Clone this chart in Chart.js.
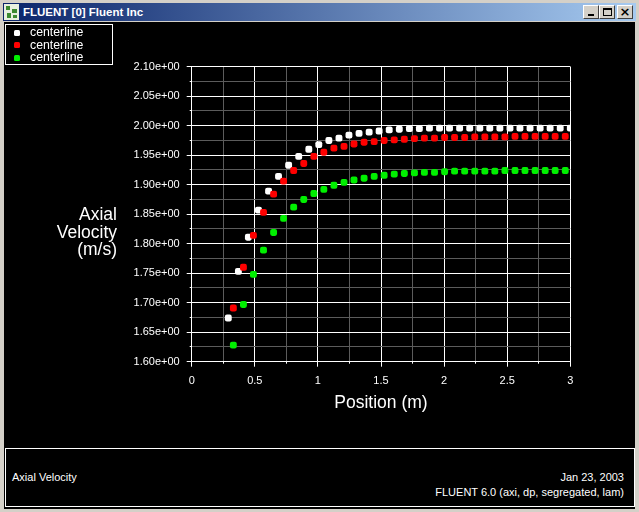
<!DOCTYPE html>
<html>
<head>
<meta charset="utf-8">
<title>FLUENT [0] Fluent Inc</title>
<script src="https://cdn.jsdelivr.net/npm/chart.js@4.4.1/dist/chart.umd.min.js"></script>
<style>
  body { margin:0; width:639px; height:512px; background:#d4d0c8; position:relative; overflow:hidden;
         font-family:"Liberation Sans", Arial, sans-serif; color:#fff; }
  .abs { position:absolute; }
  #titlebar { left:3px; top:3px; width:633px; height:18px; background:linear-gradient(to right,#0a246a,#a6caf0); }
  #icon { left:4px; top:4px; width:15px; height:16px; background:#e8f0e0; border:0 solid #3a6a2a; }
  #icon div { position:absolute; background:#3c8a30; }
  #ttext { left:23px; top:3px; line-height:18px; font-weight:bold; font-size:11.5px; white-space:nowrap; }
  .btn { top:5px; width:16px; height:14px; box-sizing:border-box; background:#d4d0c8;
         border:1px solid; border-color:#fff #404040 #404040 #fff; color:#000; }
  #client { left:4px; top:22px; width:631px; height:487px; background:#000; }
  #legend { left:5px; top:24px; width:108px; height:41px; box-sizing:border-box; border:1px solid #fff; }
  .lrow { position:absolute; left:0; font-size:12.3px; line-height:13px; white-space:nowrap; }
  .lmark { position:absolute; width:6px; height:6px; border-radius:1.5px; }
  #ytitle { right:522px; top:206px; text-align:right; font-size:17.5px; line-height:17.6px; }
  #info { left:5px; top:448px; width:630px; height:59px; box-sizing:border-box; border:1px solid #fff; font-size:11px; }
  #info div { position:absolute; white-space:nowrap; line-height:13px; }
  #chart { position:absolute; left:4px; top:22px; }
</style>
</head>
<body>
<div id="titlebar" class="abs"></div>
<div id="icon" class="abs">
  <div style="left:2px;top:2px;width:4px;height:4px"></div>
  <div style="left:8px;top:5px;width:5px;height:4px"></div>
  <div style="left:3px;top:9px;width:4px;height:5px"></div>
  <div style="left:9px;top:11px;width:4px;height:3px"></div>
</div>
<div id="ttext" class="abs">FLUENT [0] Fluent Inc</div>
<div class="abs btn" style="left:583px"><div class="abs" style="left:4px;top:8px;width:6px;height:2px;background:#000"></div></div>
<div class="abs btn" style="left:599px"><div class="abs" style="left:3px;top:2px;width:9px;height:8px;box-sizing:border-box;border:1px solid #000;border-top-width:2px"></div></div>
<div class="abs btn" style="left:617px"><div class="abs" style="left:0;top:-2px;width:14px;text-align:center;font:bold 13px 'DejaVu Sans',sans-serif;line-height:15px">×</div></div>
<div id="client" class="abs"></div>

<canvas id="chart" width="631" height="424"></canvas>

<div id="legend" class="abs">
  <div class="lmark" style="left:8px;top:5px;background:#fff"></div>
  <div class="lrow" style="left:24px;top:1px">centerline</div>
  <div class="lmark" style="left:8px;top:17px;background:#ff0000"></div>
  <div class="lrow" style="left:24px;top:13.5px">centerline</div>
  <div class="lmark" style="left:8px;top:30px;background:#00f000"></div>
  <div class="lrow" style="left:24px;top:26px">centerline</div>
</div>

<div id="ytitle" class="abs">Axial<br>Velocity<br>(m/s)</div>

<div id="info" class="abs">
  <div style="left:6px;top:22px">Axial Velocity</div>
  <div style="right:10px;top:22px">Jan 23, 2003</div>
  <div style="right:10px;top:37px">FLUENT 6.0 (axi, dp, segregated, lam)</div>
</div>

<script>
// tick labels
const xTickLabels = ['0', '0.5', '1', '1.5', '2', '2.5', '3'];
const yTickLabels = ['1.60e+00', '1.65e+00', '1.70e+00', '1.75e+00', '1.80e+00', '1.85e+00',
                     '1.90e+00', '1.95e+00', '2.00e+00', '2.05e+00', '2.10e+00'];

// series 1 (white)
const whiteX = [0.290, 0.370, 0.449, 0.529, 0.609, 0.688, 0.768, 0.848, 0.928, 1.007, 1.087, 1.167,
                1.246, 1.326, 1.406, 1.485, 1.565, 1.645, 1.725, 1.804, 1.884, 1.964, 2.043, 2.123,
                2.203, 2.283, 2.362, 2.442, 2.522, 2.601, 2.681, 2.761, 2.840, 2.920, 3.000];
const whiteY = [1.674, 1.753, 1.811, 1.857, 1.889, 1.914, 1.933, 1.948, 1.960, 1.968, 1.975, 1.979,
                1.984, 1.987, 1.989, 1.991, 1.993, 1.994, 1.995, 1.995, 1.996, 1.996, 1.996, 1.996,
                1.996, 1.996, 1.996, 1.996, 1.996, 1.996, 1.996, 1.996, 1.996, 1.996, 1.996];

// series 2 (red) and 3 (green) share positions
const redX = [0.330, 0.410, 0.489, 0.569, 0.649, 0.728, 0.808, 0.888, 0.968, 1.047, 1.127, 1.207,
              1.286, 1.366, 1.446, 1.525, 1.605, 1.685, 1.765, 1.844, 1.924, 2.004, 2.083, 2.163,
              2.243, 2.323, 2.402, 2.482, 2.562, 2.641, 2.721, 2.801, 2.880, 2.960];
const redY = [1.691, 1.760, 1.814, 1.853, 1.884, 1.906, 1.924, 1.936, 1.948, 1.955, 1.962, 1.965,
              1.969, 1.972, 1.973, 1.975, 1.976, 1.977, 1.978, 1.979, 1.979, 1.980, 1.980, 1.980,
              1.981, 1.981, 1.981, 1.981, 1.982, 1.982, 1.982, 1.982, 1.982, 1.982];
const greenX = redX;
const greenY = [1.628, 1.697, 1.748, 1.789, 1.819, 1.843, 1.862, 1.875, 1.885, 1.892, 1.899, 1.904,
                1.908, 1.911, 1.914, 1.916, 1.918, 1.919, 1.920, 1.921, 1.921, 1.922, 1.923, 1.923,
                1.923, 1.923, 1.923, 1.924, 1.924, 1.924, 1.924, 1.924, 1.924, 1.924];

function pts(xs, ys) {
    return xs.map(function(x, i) { return {x: x, y: ys[i]}; });
}

function align(px) {
    return Math.round(px - 0.5) + 0.5;
}

// short outside tick marks, long ones at labelled ticks
const tickMarks = {
    id: 'tickMarks',
    afterDraw(chart) {
        const ctx = chart.ctx;
        const xs = chart.scales.x, ys = chart.scales.y;
        ctx.save();
        ctx.strokeStyle = '#ffffff';
        ctx.lineWidth = 1;
        ctx.beginPath();
        ys.ticks.forEach(function(t, i) {
            const y = align(ys.getPixelForValue(t.value));
            const len = i % 2 ? 2 : 5;
            ctx.moveTo(ys.right - len, y);
            ctx.lineTo(ys.right, y);
        });
        xs.ticks.forEach(function(t, i) {
            const x = align(xs.getPixelForValue(t.value));
            const len = i % 2 ? 2 : 5;
            ctx.moveTo(x, xs.top);
            ctx.lineTo(x, xs.top + len);
        });
        ctx.stroke();
        ctx.restore();
    }
};

const gridColor = function(c) { return c.index % 2 ? '#5c5c5c' : '#ffffff'; };
const tickFont = {family: '"Liberation Sans", Arial, sans-serif', size: 11};

new Chart(document.getElementById('chart'), {
    type: 'scatter',
    data: {
        datasets: [
            {label: 'centerline', data: pts(whiteX, whiteY), backgroundColor: '#ffffff', order: 3},
            {label: 'centerline', data: pts(redX, redY), backgroundColor: '#ff0000', order: 2},
            {label: 'centerline', data: pts(greenX, greenY), backgroundColor: '#00f000', order: 1}
        ]
    },
    options: {
        responsive: false,
        animation: false,
        events: [],
        elements: {point: {pointStyle: 'rectRounded', radius: 4, borderWidth: 0}},
        layout: {padding: {left: 67.7, right: 64.7, top: 44.7, bottom: 24.3}},
        plugins: {legend: {display: false}, tooltip: {enabled: false}},
        scales: {
            x: {
                type: 'linear', min: 0, max: 3,
                afterFit: function(s) { s.height = 60; },
                ticks: {
                    stepSize: 0.25, color: '#ffffff', font: tickFont, padding: 13, maxRotation: 0,
                    autoSkip: false,
                    callback: function(v, i) { return i % 2 ? '' : xTickLabels[i / 2]; }
                },
                grid: {color: gridColor, lineWidth: 1, drawTicks: false},
                border: {color: '#ffffff', width: 1},
                title: {
                    display: true, text: 'Position (m)', color: '#ffffff',
                    font: {family: '"Liberation Sans", Arial, sans-serif', size: 17.5},
                    padding: {top: 0, bottom: 8}
                }
            },
            y: {
                type: 'linear', min: 1.6, max: 2.1,
                afterFit: function(s) { s.width = 120; },
                ticks: {
                    stepSize: 0.025, color: '#ffffff', font: tickFont, padding: 12, autoSkip: false,
                    callback: function(v, i) { return i % 2 ? '' : yTickLabels[i / 2]; }
                },
                grid: {color: gridColor, lineWidth: 1, drawTicks: false},
                border: {color: '#ffffff', width: 1}
            }
        }
    },
    plugins: [tickMarks]
});
</script>
</body>
</html>
